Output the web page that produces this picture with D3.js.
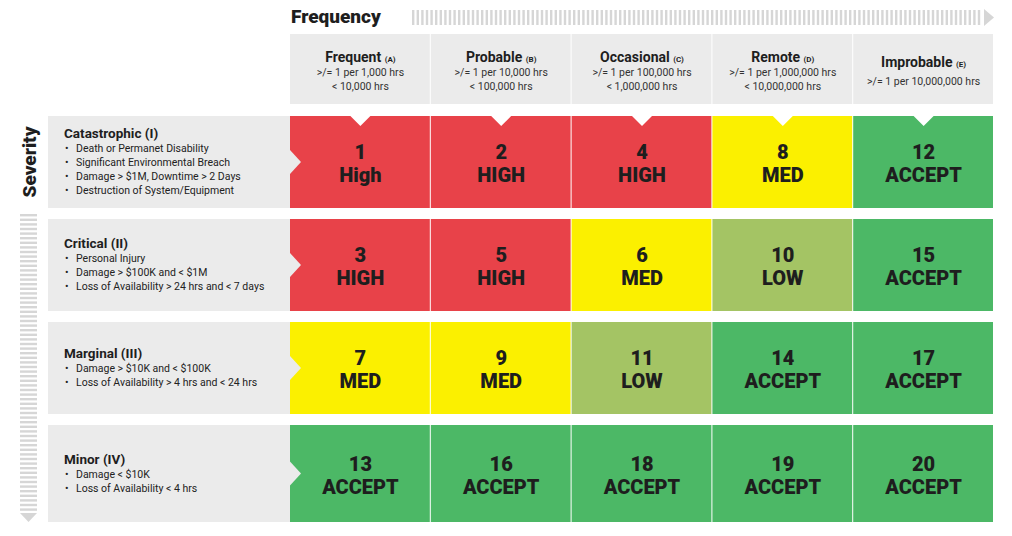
<!DOCTYPE html>
<html><head><meta charset="utf-8">
<script src="https://cdn.jsdelivr.net/npm/d3@7"></script>
<style>body{margin:0;background:#fff}text{font-family:Roboto,"Open Sans",sans-serif}</style>
</head><body><svg id="c" width="1012" height="536"></svg>
<script>
const freqNames = ["Frequent", "Probable", "Occasional", "Remote", "Improbable"];
const freqCodes = ["(A)", "(B)", "(C)", "(D)", "(E)"];
const freqRanges = [
  [">/= 1 per 1,000 hrs", "< 10,000 hrs"],
  [">/= 1 per 10,000 hrs", "< 100,000 hrs"],
  [">/= 1 per 100,000 hrs", "< 1,000,000 hrs"],
  [">/= 1 per 1,000,000 hrs", "< 10,000,000 hrs"],
  [">/= 1 per 10,000,000 hrs"]
];
const sevNames = ["Catastrophic (I)", "Critical (II)", "Marginal (III)", "Minor (IV)"];
const sevBullets = [
  ["Death or Permanet Disability", "Significant Environmental Breach", "Damage > $1M, Downtime > 2 Days", "Destruction of System/Equipment"],
  ["Personal Injury", "Damage > $100K and < $1M", "Loss of Availability > 24 hrs and < 7 days"],
  ["Damage > $10K and < $100K", "Loss of Availability > 4 hrs and < 24 hrs"],
  ["Damage < $10K", "Loss of Availability < 4 hrs"]
];
const scores = [[1,2,4,8,12],[3,5,6,10,15],[7,9,11,14,17],[13,16,18,19,20]];
const levels = [["High","HIGH","HIGH","MED","ACCEPT"],["HIGH","HIGH","MED","LOW","ACCEPT"],
  ["MED","MED","LOW","ACCEPT","ACCEPT"],["ACCEPT","ACCEPT","ACCEPT","ACCEPT","ACCEPT"]];

const colour = l => ({HIGH:"#e84249", MED:"#fbf000", LOW:"#a4c464", ACCEPT:"#4cb866"})[l.toUpperCase()];
const svg = d3.select("#c");
const x = d3.scaleBand().domain(d3.range(5)).range([290, 994]).paddingInner(0.0);
const rowTops = [116, 219, 322, 425], rowH = [92, 92, 92, 97];
const grey = "#ebebeb", tick = "#d6d6d6";

// Frequency title + arrow
svg.append("text").attr("x", 291).attr("y", 23).attr("font-size", 19).attr("font-weight", 900)
  .attr("fill", "#1e1e1e").text("Frequency");
d3.range(412, 982, 4.6).forEach(v => svg.append("rect").attr("x", v).attr("y", 10).attr("width", 2.4).attr("height", 15).attr("fill", tick));
svg.append("path").attr("d", "M984,9L994,17.5L984,26Z").attr("fill", tick);

// Severity title + arrow
svg.append("text").attr("transform", "translate(36,162) rotate(-90)").attr("text-anchor", "middle")
  .attr("font-size", 19).attr("font-weight", 900).attr("fill", "#1e1e1e").text("Severity");
d3.range(214, 512, 4.6).forEach(v => svg.append("rect").attr("x", 20).attr("y", v).attr("width", 17).attr("height", 2.4).attr("fill", tick));
svg.append("path").attr("d", "M20,513L37,513L28.5,522Z").attr("fill", tick);

// header
freqNames.forEach((n, i) => {
  const g = svg.append("g");
  g.append("rect").attr("x", x(i)).attr("y", 34).attr("width", x.bandwidth() - 1).attr("height", 70).attr("fill", grey);
  const cx = x(i) + x.bandwidth() / 2;
  const one = freqRanges[i].length === 1;
  const t = g.append("text").attr("x", cx).attr("y", one ? 67 : 62).attr("text-anchor", "middle")
    .attr("font-size", 14).attr("font-weight", 700).attr("fill", "#1e1e1e");
  t.append("tspan").text(n + " ");
  t.append("tspan").attr("font-size", 8).text(freqCodes[i]);
  freqRanges[i].forEach((r, k) => g.append("text").attr("x", cx).attr("y", (one ? 85 : 76) + k * 14)
    .attr("text-anchor", "middle").attr("font-size", 10.5).attr("fill", "#333").text(r));
});

// rows
sevNames.forEach((n, r) => {
  const y0 = rowTops[r], h = rowH[r], cy = y0 + h / 2;
  svg.append("rect").attr("x", 48).attr("y", y0).attr("width", 242).attr("height", h).attr("fill", grey);
  const lines = sevBullets[r];
  const top = cy - (lines.length * 14 + 16) / 2 + 12;
  svg.append("text").attr("x", 64).attr("y", top).attr("font-size", 13.5).attr("font-weight", 700)
    .attr("fill", "#1e1e1e").text(n);
  lines.forEach((b, k) => {
    svg.append("text").attr("x", 65).attr("y", top + 14 + k * 14).attr("font-size", 10.5).attr("fill", "#222").text("•");
    svg.append("text").attr("x", 76).attr("y", top + 14 + k * 14).attr("font-size", 10.5).attr("fill", "#222").text(b);
  });
  scores[r].forEach((s, c) => {
    const cx = x(c) + x.bandwidth() / 2;
    svg.append("rect").attr("x", x(c)).attr("y", y0).attr("width", x.bandwidth() - 1).attr("height", h)
      .attr("fill", colour(levels[r][c]));
    svg.append("text").attr("x", cx).attr("y", cy - 3).attr("text-anchor", "middle").attr("font-size", 20)
      .attr("font-weight", 900).attr("fill", "#1e1e1e").text(s);
    svg.append("text").attr("x", cx).attr("y", cy + 20).attr("text-anchor", "middle").attr("font-size", 20)
      .attr("font-weight", 900).attr("fill", "#1e1e1e").text(levels[r][c]);
    if (r === 0) svg.append("path").attr("d", `M${cx - 10},${y0}L${cx + 10},${y0}L${cx},${y0 + 10}Z`).attr("fill", "#fff");
  });
  svg.append("path").attr("d", `M290,${cy - 12}L301,${cy}L290,${cy + 12}Z`).attr("fill", grey);
});
</script></body></html>
